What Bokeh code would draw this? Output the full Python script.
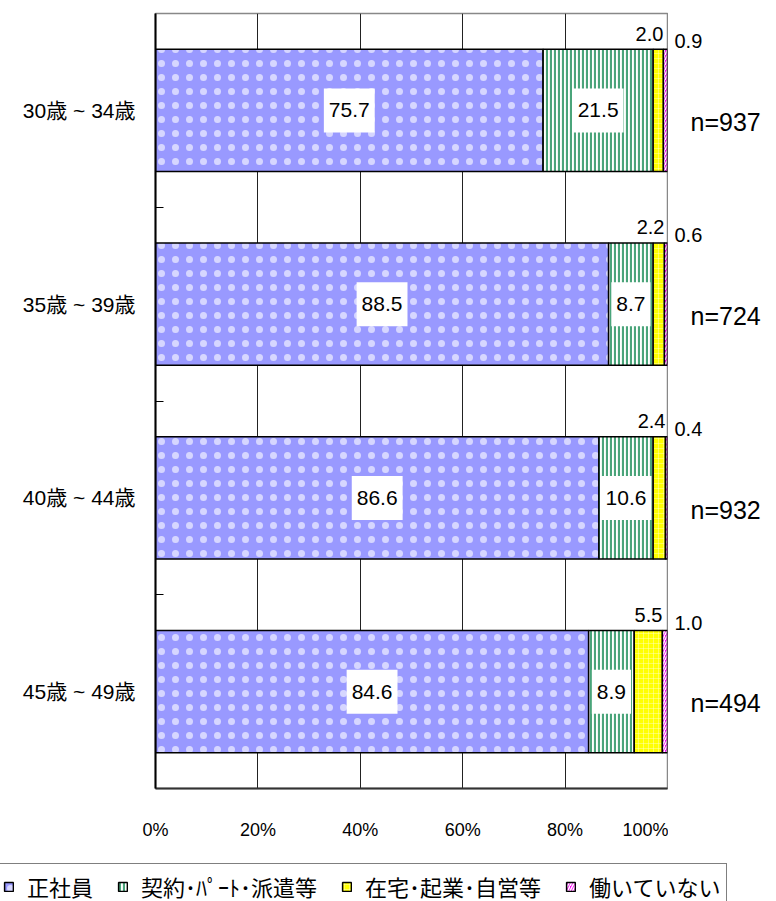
import numpy as np
from bokeh.plotting import figure
from bokeh.layouts import column, row
from bokeh.models import (ColumnDataSource, FixedTicker, Legend, LegendItem, Range1d)
from bokeh.core.properties import value
from bokeh.embed import file_html
from bokeh.resources import INLINE

# ---- data ----
categories = ["30歳 ~ 34歳", "35歳 ~ 39歳", "40歳 ~ 44歳", "45歳 ~ 49歳"]
series_names = ["正社員", "契約･ﾊﾟｰﾄ･派遣等", "在宅･起業･自営等", "働いていない"]
seishain = [75.7, 88.5, 86.6, 84.6]
keiyaku = [21.5, 8.7, 10.6, 8.9]
zaitaku = [2.0, 2.2, 2.4, 5.5]
hataraite_inai = [0.9, 0.6, 0.4, 1.0]
n_counts = [937, 724, 932, 494]
x_tick_values = [0, 20, 40, 60, 80, 100]
x_tick_labels = ["0%", "20%", "40%", "60%", "80%", "100%"]

NUM_FONT = "Liberation Sans"
JP_FONT = "Liberation Sans, Noto Sans CJK JP"

ncat = len(categories)
yc = np.arange(ncat) + 0.5
s = np.array(seishain)
k = np.array(keiyaku)
z = np.array(zaitaku)
h = np.array(hataraite_inai)
r0 = s
r1 = s + k
r2 = r1 + z
r3 = r2 + h

src = ColumnDataSource(dict(
    y=yc, l0=np.zeros(ncat), r0=r0, l1=r0, r1=r1, l2=r1, r2=r2, l3=r2, r3=r3,
    m0=r0 / 2, m1=(r0 + r1) / 2,
    t0=[f"{v:.1f}" for v in seishain],
    t1=[f"{v:.1f}" for v in keiyaku],
    t2=[f"{v:.1f}" for v in zaitaku],
    t3=[f"{v:.1f}" for v in hataraite_inai],
    tn=[f"n={v}" for v in n_counts],
    y_above=yc - 0.36, y_above2=yc - 0.32, y_n=yc + 0.06,
    x0=np.zeros(ncat),
))

TOP, BOTTOM, H_MAIN = 13, 70, 858
p = figure(width=668, height=H_MAIN, x_range=Range1d(0, 100), y_range=Range1d(ncat, 0),
           output_backend="svg", toolbar_location=None,
           min_border_left=155, min_border_right=1, min_border_top=TOP,
           min_border_bottom=BOTTOM)

p.outline_line_color = "#888888"
p.outline_line_width = 1.5
p.ygrid.grid_line_color = None
p.xgrid.ticker = FixedTicker(ticks=x_tick_values[1:-1])
p.xgrid.grid_line_color = "#222222"
p.xgrid.grid_line_width = 1

# x axis
p.xaxis.ticker = FixedTicker(ticks=x_tick_values)
p.xaxis.major_label_overrides = {v: l for v, l in zip(x_tick_values, x_tick_labels)}
p.xaxis.major_tick_line_color = None
p.xaxis.major_tick_in = 0
p.xaxis.major_tick_out = 0
p.xaxis.minor_tick_line_color = None
p.xaxis.axis_line_color = "#333333"
p.xaxis.axis_line_width = 2
p.xaxis.major_label_standoff = 31
p.xaxis.major_label_text_font = NUM_FONT
p.xaxis.major_label_text_font_size = "18px"
p.xaxis.major_label_text_color = "black"

# y axis
p.yaxis.ticker = FixedTicker(ticks=list(yc), minor_ticks=list(range(1, ncat)))
p.yaxis.major_label_overrides = {float(v): c for v, c in zip(yc, categories)}
p.yaxis.major_tick_line_color = None
p.yaxis.major_tick_in = 0
p.yaxis.major_tick_out = 0
p.yaxis.minor_tick_in = 8
p.yaxis.minor_tick_out = 0
p.yaxis.minor_tick_line_color = "black"
p.yaxis.minor_tick_line_width = 1
p.yaxis.axis_line_color = "black"
p.yaxis.axis_line_width = 2
p.yaxis.major_label_standoff = 20
p.yaxis.major_label_text_font = JP_FONT
p.yaxis.major_label_text_font_size = "21px"
p.yaxis.major_label_text_color = "black"

BAR_H = 0.63
styles = [
    dict(fill_color="#9999FF", hatch_pattern="dot", hatch_color="white",
         hatch_scale=14, hatch_weight=1, hatch_alpha=0.6),
    dict(fill_color="#FFFFFF", hatch_pattern="vertical_line", hatch_color="#4AA47A",
         hatch_scale=4, hatch_weight=2.2),
    dict(fill_color="#FFFF00", hatch_pattern="cross", hatch_color="#FFFFE0",
         hatch_scale=5, hatch_weight=1, hatch_alpha=0.4),
    dict(fill_color="#FF00FF", hatch_pattern="right_diagonal_line", hatch_color="white",
         hatch_scale=5, hatch_weight=1.5),
]
lefts = ["l0", "l1", "l2", "l3"]
rights = ["r0", "r1", "r2", "r3"]
bars = []
for lc, rc, st in zip(lefts, rights, styles):
    bars.append(p.hbar(y="y", left=lc, right=rc, height=BAR_H, source=src,
                       line_color="black", line_width=1.5, **st))

# boxed value labels
for xcol, tcol in (("m0", "t0"), ("m1", "t1")):
    p.text(x=xcol, y="y", text=tcol, source=src,
           text_align="center", text_baseline="middle",
           text_font=value(NUM_FONT), text_font_size=value("21px"),
           text_color="black", background_fill_color="white",
           padding=(5, 15))

# labels above bar end (在宅)
p.text(x="r2", y="y_above", text="t2", source=src,
       text_align="right", text_baseline="bottom",
       text_font=value(NUM_FONT), text_font_size=value("20px"), text_color="black")

# right-side label strip, sharing the y range
p2 = figure(width=108, height=H_MAIN, x_range=Range1d(0, 108), y_range=p.y_range,
            output_backend="svg", toolbar_location=None,
            x_axis_location=None, y_axis_location=None,
            min_border_left=0, min_border_right=0, min_border_top=TOP,
            min_border_bottom=BOTTOM)
p2.outline_line_color = None
p2.grid.visible = False
p2.text(x="x0", y="y_above2", text="t3", source=src, x_offset=6,
        text_align="left", text_baseline="bottom",
        text_font=value(NUM_FONT), text_font_size=value("20px"), text_color="black")
p2.text(x="x0", y="y_n", text="tn", source=src, x_offset=22,
        text_align="left", text_baseline="middle",
        text_font=value(NUM_FONT), text_font_size=value("25px"), text_color="black")

# legend strip (legend swatches use out-of-view proxy glyphs with the same styles)
pl = figure(width=776, height=901 - H_MAIN, x_range=Range1d(0, 1), y_range=Range1d(0, 1),
            output_backend="svg", toolbar_location=None,
            x_axis_location=None, y_axis_location=None,
            min_border_left=0, min_border_right=0, min_border_top=0, min_border_bottom=0)
pl.outline_line_color = None
pl.border_fill_color = "white"
pl.background_fill_color = "white"
pl.grid.visible = False
leg_rs = [pl.hbar(y=[-5], left=[5], right=[6], height=0.5, line_color="black",
                  line_width=1.5, **st) for st in styles]
legend = Legend(items=[LegendItem(label=nm, renderers=[r])
                       for nm, r in zip(series_names, leg_rs)],
                orientation="horizontal", location=(-4, -8),
                glyph_width=11, glyph_height=11, label_standoff=13, spacing=24,
                padding=6, margin=0,
                label_text_font=JP_FONT, label_text_font_size="22px",
                label_text_color="black", label_height=22,
                border_line_color="black", border_line_width=1,
                background_fill_color="white", background_fill_alpha=1)
pl.add_layout(legend)

layout = column(row(p, p2), pl)
open("out.html", "w").write(file_html(layout, INLINE))
